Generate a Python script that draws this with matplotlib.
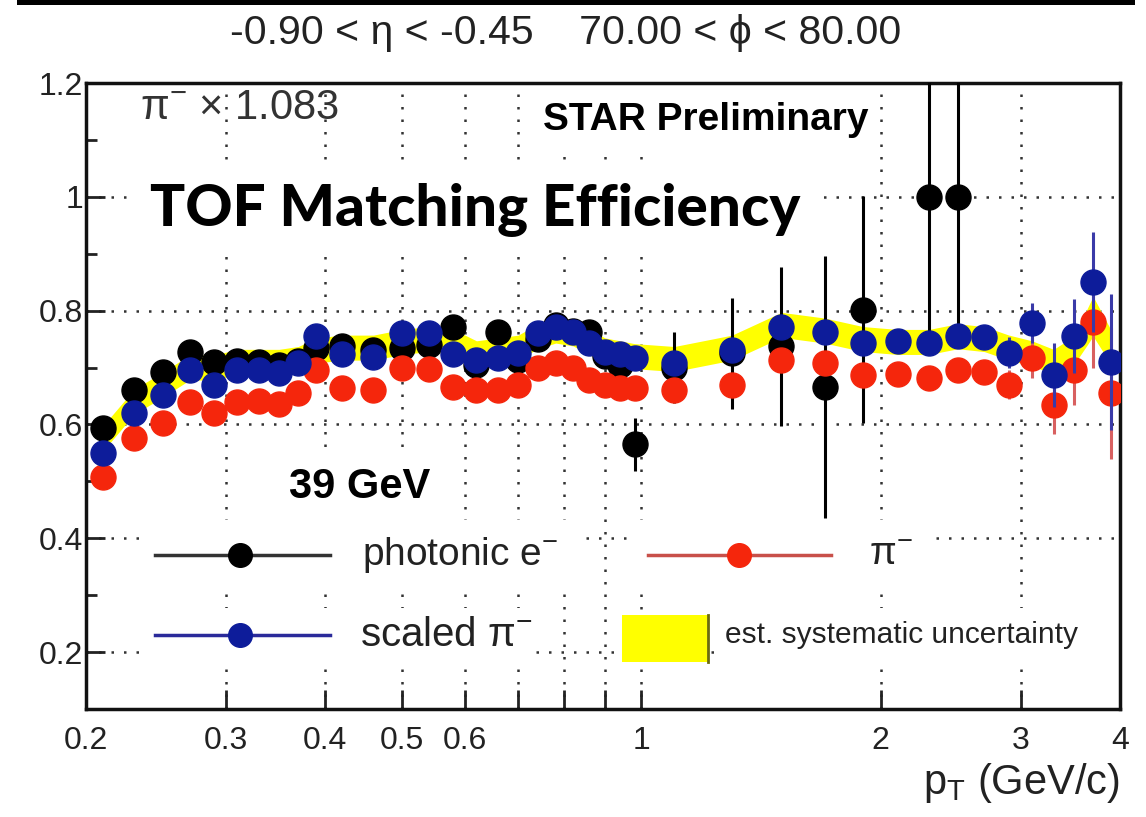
import matplotlib
matplotlib.use("Agg")
from matplotlib import pyplot as plt
from matplotlib.patches import Rectangle
from matplotlib.lines import Line2D
from matplotlib.ticker import FixedLocator, FixedFormatter, NullLocator
import numpy as np

## pT bin centres [GeV/c]
pt = [0.21, 0.23, 0.25, 0.27, 0.29, 0.31, 0.33, 0.35, 0.37, 0.39,
      0.42, 0.46, 0.50, 0.54, 0.58, 0.62, 0.66, 0.70, 0.74, 0.78,
      0.82, 0.86, 0.90, 0.94, 0.98, 1.1, 1.3, 1.5, 1.7, 1.9,
      2.1, 2.3, 2.5, 2.7, 2.9, 3.1, 3.3, 3.5, 3.7, 3.9]

photonic_e = [0.594, 0.661, 0.693, 0.728, 0.710, 0.712, 0.710, 0.705, 0.712, 0.735,
              0.737, 0.731, 0.735, 0.740, 0.772, 0.705, 0.763, 0.714, 0.750, 0.775,
              0.765, 0.763, 0.720, 0.705, 0.565, 0.700, 0.725, 0.737, 0.666, 0.802,
              np.nan, 1.000, 1.000, np.nan, np.nan, np.nan, np.nan, np.nan, np.nan, np.nan]
photonic_e_err = [0.01, 0.01, 0.01, 0.01, 0.01, 0.01, 0.01, 0.01, 0.01, 0.01,
                  0.01, 0.01, 0.01, 0.01, 0.01, 0.01, 0.01, 0.01, 0.01, 0.01,
                  0.01, 0.01, 0.01, 0.015, 0.046, 0.062, 0.097, 0.14, 0.23, 0.20,
                  np.nan, 0.26, 0.24, np.nan, np.nan, np.nan, np.nan, np.nan, np.nan, np.nan]

pi_minus = [0.507, 0.576, 0.602, 0.640, 0.620, 0.640, 0.642, 0.636, 0.655, 0.696,
            0.664, 0.660, 0.700, 0.698, 0.666, 0.660, 0.660, 0.670, 0.700, 0.708,
            0.700, 0.678, 0.670, 0.664, 0.664, 0.660, 0.670, 0.714, 0.708, 0.687,
            0.689, 0.682, 0.696, 0.693, 0.670, 0.717, 0.634, 0.696, 0.780, 0.655]
pi_minus_err = [0.005, 0.005, 0.005, 0.005, 0.005, 0.005, 0.005, 0.005, 0.005, 0.005,
                0.005, 0.005, 0.005, 0.005, 0.005, 0.005, 0.005, 0.005, 0.005, 0.005,
                0.005, 0.005, 0.005, 0.005, 0.005, 0.006, 0.006, 0.008, 0.008, 0.008,
                0.01, 0.01, 0.01, 0.01, 0.025, 0.035, 0.05, 0.062, 0.08, 0.115]

scaled_pi = [0.549, 0.620, 0.652, 0.696, 0.670, 0.696, 0.696, 0.690, 0.708, 0.755,
             0.723, 0.719, 0.761, 0.761, 0.723, 0.714, 0.717, 0.726, 0.761, 0.772,
             0.763, 0.744, 0.728, 0.723, 0.717, 0.708, 0.731, 0.772, 0.763, 0.744,
             0.746, 0.744, 0.755, 0.753, 0.726, 0.779, 0.687, 0.755, 0.850, 0.710]
scaled_pi_err = [0.005, 0.005, 0.005, 0.005, 0.005, 0.005, 0.005, 0.005, 0.005, 0.005,
                 0.005, 0.005, 0.005, 0.005, 0.005, 0.005, 0.005, 0.005, 0.005, 0.005,
                 0.005, 0.005, 0.005, 0.005, 0.005, 0.006, 0.006, 0.008, 0.008, 0.008,
                 0.01, 0.01, 0.01, 0.01, 0.027, 0.035, 0.056, 0.065, 0.088, 0.12]

## est. systematic band (centre and half width)
sys_mid = [0.575, 0.640, 0.670, 0.700, 0.700, 0.710, 0.710, 0.710, 0.715, 0.730,
           0.735, 0.735, 0.745, 0.750, 0.745, 0.725, 0.730, 0.735, 0.755, 0.765,
           0.760, 0.745, 0.730, 0.725, 0.720, 0.715, 0.735, 0.775, 0.765, 0.750,
           0.745, 0.745, 0.755, 0.750, 0.735, 0.725, 0.710, 0.730, 0.790, 0.735]
sys_half = [0.022, 0.022, 0.022, 0.022, 0.022, 0.022, 0.022, 0.022, 0.022, 0.022,
            0.022, 0.022, 0.022, 0.022, 0.022, 0.022, 0.022, 0.022, 0.022, 0.022,
            0.022, 0.022, 0.022, 0.022, 0.022, 0.022, 0.022, 0.022, 0.022, 0.022,
            0.022, 0.022, 0.022, 0.022, 0.022, 0.022, 0.022, 0.025, 0.035, 0.030]

xtick_pos = [0.2, 0.3, 0.4, 0.5, 0.6, 0.7, 0.8, 0.9, 1, 2, 3, 4]
xtick_labels = ["0.2", "0.3", "0.4", "0.5", "0.6", "", "", "", "1", "2", "3", "4"]
ytick_pos = [0.2, 0.4, 0.6, 0.8, 1.0, 1.2]
ytick_labels = ["0.2", "0.4", "0.6", "0.8", "1", "1.2"]

legend_labels = ["photonic e$^{-}$", "\u03c0$^{-}$", "scaled \u03c0$^{-}$", "est. systematic uncertainty"]

BLACK = "black"
RED = "#f5260c"
BLUE = "#0d1c9a"
YELLOW = "#ffff00"

plt.rcParams["font.family"] = ["Liberation Sans", "DejaVu Sans"]
plt.rcParams["mathtext.fontset"] = "custom"
plt.rcParams["mathtext.rm"] = "Liberation Sans"
plt.rcParams["mathtext.it"] = "Liberation Sans:italic"
plt.rcParams["mathtext.bf"] = "Liberation Sans:bold"


def draw_legend(ax):
    tr = ax.transAxes
    ## white patches behind the entries
    for x0, y0, w, h in [(0.053, 0.193, 0.430, 0.109), (0.526, 0.193, 0.294, 0.109),
                         (0.053, 0.067, 0.380, 0.094), (0.609, 0.067, 0.386, 0.094)]:
        ax.add_patch(Rectangle((x0, y0), w, h, transform=tr, facecolor="white",
                               edgecolor="none", zorder=6))

    ax.add_line(Line2D([0.067, 0.236], [0.246, 0.246], transform=tr, color="#333333", lw=2.5, zorder=7))
    ax.add_line(Line2D([0.149], [0.246], transform=tr, color=BLACK, marker="o", ms=17, zorder=7))
    ax.text(0.267, 0.246, legend_labels[0], transform=tr, fontsize=28, va="center", color="#222222", zorder=8)

    ax.add_line(Line2D([0.544, 0.721], [0.246, 0.246], transform=tr, color="#c8504a", lw=2.5, zorder=7))
    ax.add_line(Line2D([0.632], [0.246], transform=tr, color=RED, marker="o", ms=17, zorder=7))
    ax.text(0.757, 0.246, legend_labels[1], transform=tr, fontsize=28, va="center", color="#222222", zorder=8)

    ax.add_line(Line2D([0.067, 0.236], [0.118, 0.118], transform=tr, color="#2a2a9a", lw=2.5, zorder=7))
    ax.add_line(Line2D([0.149], [0.118], transform=tr, color=BLUE, marker="o", ms=17, zorder=7))
    ax.text(0.265, 0.118, legend_labels[2], transform=tr, fontsize=29, va="center", color="#222222", zorder=8)

    ax.add_patch(Rectangle((0.518, 0.075), 0.084, 0.075, transform=tr, facecolor=YELLOW,
                           edgecolor="none", zorder=7))
    ax.add_line(Line2D([0.602, 0.602], [0.075, 0.150], transform=tr, color="#6b6b10", lw=2, zorder=7))
    ax.text(0.618, 0.118, legend_labels[3], transform=tr, fontsize=21.5, va="center", color="#222222", zorder=8)


def main():

    fig = plt.figure(figsize=(11.46, 8.17), dpi=100)
    ax = fig.add_axes([0.0750, 0.1322, 0.9023, 0.7662])

    ax.set_xscale("log")
    ax.set_xlim(0.2, 4.0)
    ax.set_ylim(0.1, 1.2)

    ax.xaxis.set_major_locator(FixedLocator(xtick_pos))
    ax.xaxis.set_major_formatter(FixedFormatter(xtick_labels))
    ax.xaxis.set_minor_locator(NullLocator())
    ax.yaxis.set_major_locator(FixedLocator(ytick_pos))
    ax.yaxis.set_major_formatter(FixedFormatter(ytick_labels))
    ax.yaxis.set_minor_locator(FixedLocator(np.arange(0.1, 1.21, 0.1)))

    ax.tick_params(axis="both", which="major", direction="in", length=14, width=2,
                   labelsize=23, color="#222222", labelcolor="#222222")
    ax.tick_params(axis="x", which="major", pad=12)
    ax.tick_params(axis="y", which="major", pad=2)
    ax.tick_params(axis="y", which="minor", direction="in", length=8, width=2, color="#222222")

    ax.set_axisbelow(True)
    ax.grid(True, which="major", linestyle=(0, (1, 4)), color="#333333", lw=1.8)
    for sp in ax.spines.values():
        sp.set_linewidth(2.5)
        sp.set_color("#111111")

    lo = [m - h for m, h in zip(sys_mid, sys_half)]
    hi = [m + h for m, h in zip(sys_mid, sys_half)]
    ax.fill_between(pt, lo, hi, color=YELLOW, lw=0, zorder=1.5)

    ax.errorbar(pt, photonic_e, yerr=photonic_e_err, fmt="o", color=BLACK, ms=18,
                elinewidth=2.2, capsize=0, zorder=3)
    ax.errorbar(pt, pi_minus, yerr=pi_minus_err, fmt="o", color=RED, ecolor="#d86060", ms=18,
                elinewidth=2.2, capsize=0, zorder=4)
    ax.errorbar(pt, scaled_pi, yerr=scaled_pi_err, fmt="o", color=BLUE, ecolor="#3a3aa8", ms=18,
                elinewidth=2.2, capsize=0, zorder=5)

    ax.text(0.052, 0.96, "\u03c0$^{-}$ \u00d7 1.083", transform=ax.transAxes, fontsize=30,
            va="center", color="#333333", zorder=8)
    ax.text(0.599, 0.941, "STAR Preliminary", transform=ax.transAxes, fontsize=28,
            fontweight="bold", ha="center", va="center", zorder=8,
            bbox=dict(facecolor="white", edgecolor="none", pad=8))
    ax.text(0.376, 0.797, "TOF Matching Efficiency", transform=ax.transAxes, fontsize=42,
            family=["Lato", "DejaVu Sans"], fontweight="black", ha="center", va="center", zorder=8,
            bbox=dict(facecolor="white", edgecolor="none", pad=12))
    ax.text(0.265, 0.355, "39 GeV", transform=ax.transAxes, fontsize=30,
            fontweight="bold", ha="center", va="center", zorder=8,
            bbox=dict(facecolor="white", edgecolor="none", pad=10))

    draw_legend(ax)

    ax.set_xlabel("p$_\\mathregular{T}$ (GeV/c)", loc="right", fontsize=30, color="#222222", labelpad=4)

    fig.text(566 / 1146, 1 - 33 / 817, "-0.90 < \u03b7 < -0.45    70.00 < \u03d5 < 80.00",
             ha="center", va="center", fontsize=29.5, color="#222222")
    fig.patches.append(Rectangle((0.015, 1 - 5 / 817), 0.975, 5 / 817, transform=fig.transFigure,
                                 facecolor="black", edgecolor="none"))

    fig.savefig("out.png", dpi=100)


if __name__ == "__main__":
    main()
